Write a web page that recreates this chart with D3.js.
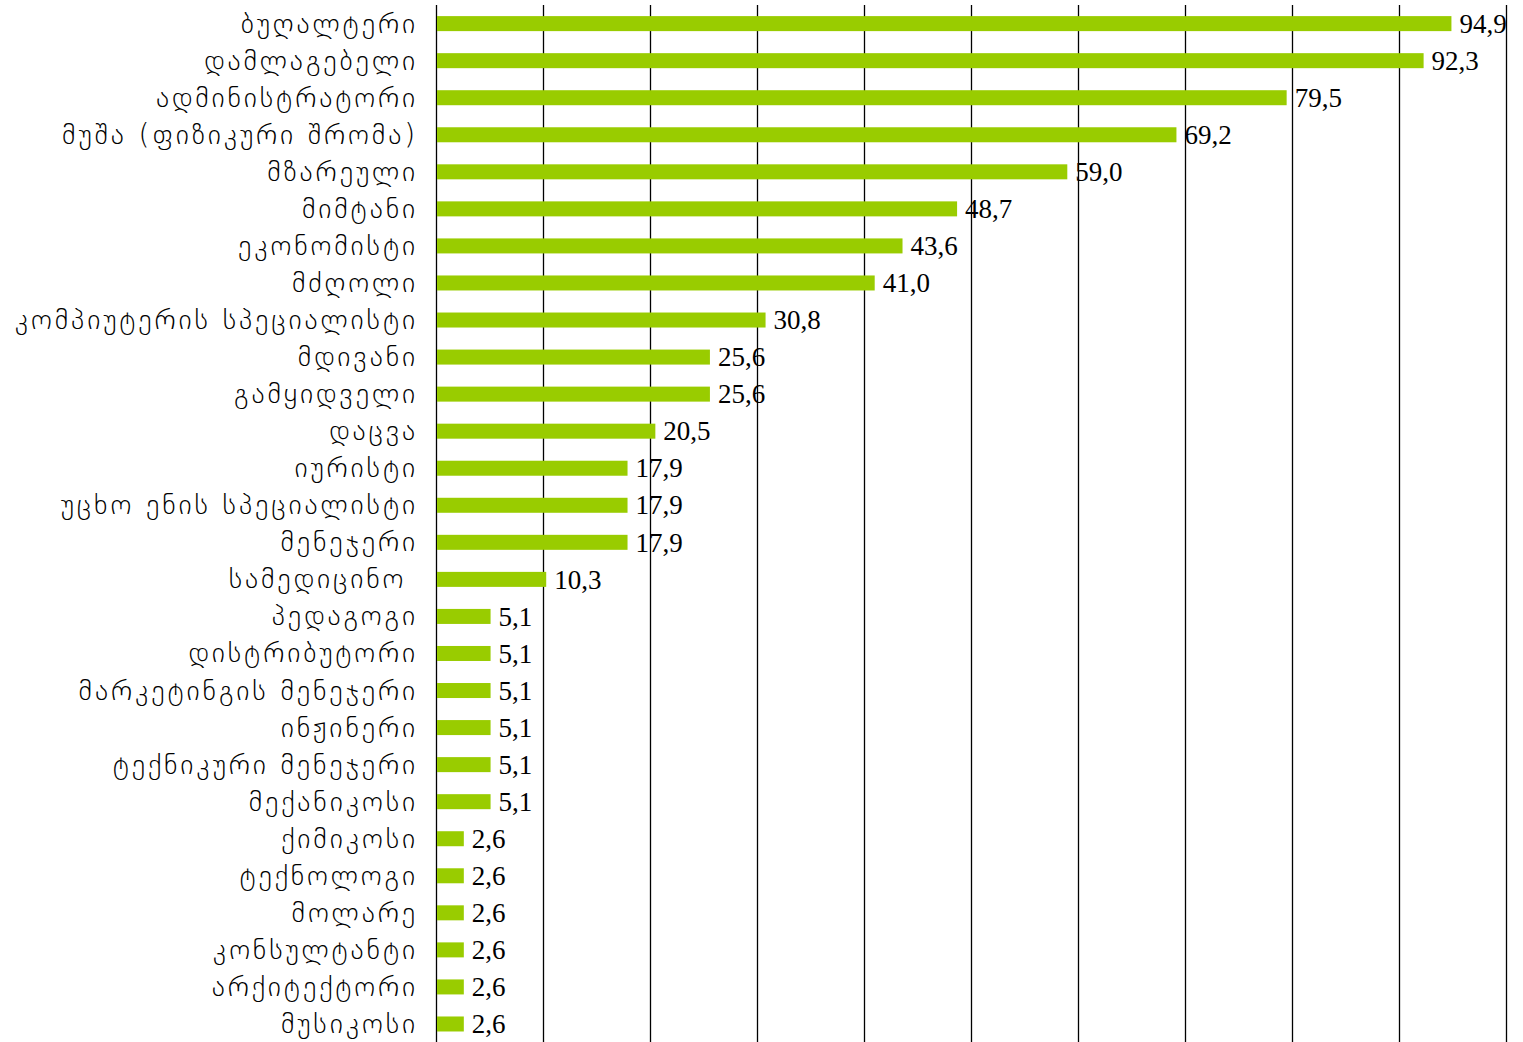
<!DOCTYPE html>
<html><head><meta charset="utf-8">
<script src="https://cdn.jsdelivr.net/npm/d3@7"></script>
<style>body{margin:0;background:#fff}svg{display:block}</style>
</head><body>
<svg id="c" width="1523" height="1042"></svg>
<script>
const categories = ["ბუღალტერი","დამლაგებელი","ადმინისტრატორი","მუშა (ფიზიკური შრომა)","მზარეული","მიმტანი","ეკონომისტი","მძღოლი","კომპიუტერის სპეციალისტი","მდივანი","გამყიდველი","დაცვა","იურისტი","უცხო ენის სპეციალისტი","მენეჯერი","სამედიცინო ","პედაგოგი","დისტრიბუტორი","მარკეტინგის მენეჯერი","ინჟინერი","ტექნიკური მენეჯერი","მექანიკოსი","ქიმიკოსი","ტექნოლოგი","მოლარე","კონსულტანტი","არქიტექტორი","მუსიკოსი"];
const values = [94.9,92.3,79.5,69.2,59.0,48.7,43.6,41.0,30.8,25.6,25.6,20.5,17.9,17.9,17.9,10.3,5.1,5.1,5.1,5.1,5.1,5.1,2.6,2.6,2.6,2.6,2.6,2.6];
const xTicks = [0,10,20,30,40,50,60,70,80,90,100];

const svg = d3.select("#c");
const x = d3.scaleLinear().domain([0,100]).range([436,1506]);
const y = d3.scaleBand().domain(categories).range([5,1042.6]).paddingInner(0.595).paddingOuter(0.3);
const loc = d3.formatLocale({decimal:",",thousands:" ",grouping:[3],currency:["",""]});
const fmt = loc.format(".1f");

svg.append("g").selectAll("line").data(xTicks).join("line")
  .attr("x1",d=>Math.round(x(d))+0.5).attr("x2",d=>Math.round(x(d))+0.5)
  .attr("y1",5).attr("y2",1042)
  .attr("stroke","#000").attr("stroke-width",1.3);

svg.append("g").selectAll("rect").data(values).join("rect")
  .attr("x",x(0)+1).attr("y",(d,i)=>y(categories[i]))
  .attr("width",d=>x(d)-x(0)-1).attr("height",y.bandwidth())
  .attr("fill","#99cc00");

svg.append("g").selectAll("text").data(values).join("text")
  .attr("x",d=>x(d)+8).attr("y",(d,i)=>y(categories[i])+y.bandwidth()/2+3)
  .attr("dominant-baseline","middle")
  .attr("font-family","'Liberation Serif','Times New Roman',serif").attr("font-size",27)
  .attr("fill","#000").text(d=>fmt(d));

svg.append("g").selectAll("text").data(categories).join("text")
  .attr("x",418).attr("y",c=>y(c)+y.bandwidth()/2+1)
  .attr("text-anchor","end").attr("dominant-baseline","middle")
  .style("white-space","pre")
  .attr("font-family","'DejaVu Sans ExtraLight','DejaVu Sans',sans-serif").attr("font-weight",200)
  .attr("font-size",28).attr("letter-spacing","2.9px")
  .attr("fill","#000").text(c=>c);
</script>
</body></html>
